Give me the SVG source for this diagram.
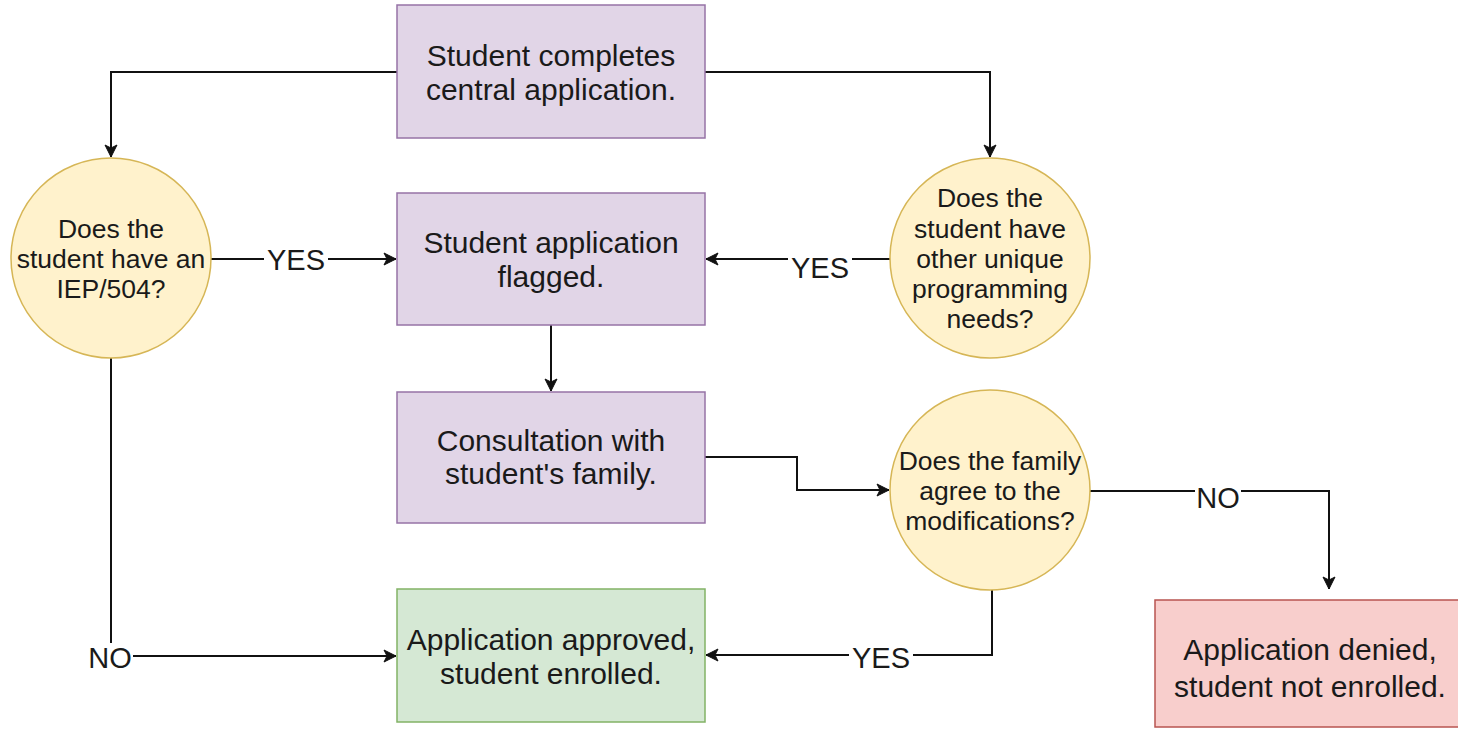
<svg xmlns="http://www.w3.org/2000/svg" width="1458" height="732" viewBox="0 0 1458 732">
<style>
.box{stroke-width:1.5}
.purple{fill:#e1d5e7;stroke:#9673a6}
.yellow{fill:#fff2cc;stroke:#d6b656}
.green{fill:#d5e8d4;stroke:#82b366}
.red{fill:#f8cecc;stroke:#b85450}
.t{font-family:"Liberation Sans",Arial,sans-serif;fill:#1a1a1a;text-anchor:middle}
.bt{font-size:30px}
.ct{font-size:26.5px}
.lt{font-size:29px}
.edge{fill:none;stroke:#111;stroke-width:2}
.lbg{fill:#fff}
</style>
<defs>
<marker id="arr" markerUnits="userSpaceOnUse" markerWidth="14" markerHeight="14" viewBox="0 0 14 14" refX="13" refY="7" orient="auto">
<path d="M1,1 L13,7 L1,13 L4,7 z" fill="#111" stroke="#111" stroke-width="1"/>
</marker>
</defs>
<rect width="1458" height="732" fill="#fff"/>
<g id="connectors">
<path class="edge" d="M397,72 H111 V157" marker-end="url(#arr)"/>
<path class="edge" d="M705,72 H990 V157" marker-end="url(#arr)"/>
<path class="edge" d="M210,259 H396" marker-end="url(#arr)"/>
<path class="edge" d="M890,259 H706" marker-end="url(#arr)"/>
<path class="edge" d="M551,325 V391" marker-end="url(#arr)"/>
<path class="edge" d="M705,457 H797 V490 H889" marker-end="url(#arr)"/>
<path class="edge" d="M1090,491 H1329 V589" marker-end="url(#arr)"/>
<path class="edge" d="M992,590 V655 H706" marker-end="url(#arr)"/>
<path class="edge" d="M111,358 V656 H396" marker-end="url(#arr)"/>
<rect class="lbg" x="264" y="246" width="64" height="28"/>
<text class="t lt" x="296" y="270">YES</text>
<rect class="lbg" x="788" y="252" width="64" height="30"/>
<text class="t lt" x="820" y="278">YES</text>
<rect class="lbg" x="1195" y="478" width="46" height="28"/>
<text class="t lt" x="1218" y="508">NO</text>
<rect class="lbg" x="849" y="643" width="64" height="28"/>
<text class="t lt" x="881" y="668">YES</text>
<rect class="lbg" x="87" y="643" width="46" height="28"/>
<text class="t lt" x="110" y="668">NO</text>
</g>
<g id="start">
<rect class="box purple" x="397" y="5" width="308" height="133"/>
<text class="t bt" x="551" y="66">Student completes</text>
<text class="t bt" x="551" y="100">central application.</text>
</g>
<g id="q-iep">
<circle class="box yellow" cx="111" cy="258" r="100"/>
<text class="t ct" x="111" y="238">Does the</text>
<text class="t ct" x="111" y="268">student have an</text>
<text class="t ct" x="111" y="298">IEP/504?</text>
</g>
<g id="flagged">
<rect class="box purple" x="397" y="193" width="308" height="132"/>
<text class="t bt" x="551" y="253">Student application</text>
<text class="t bt" x="551" y="287">flagged.</text>
</g>
<g id="q-needs">
<circle class="box yellow" cx="990" cy="258" r="100"/>
<text class="t ct" x="990" y="207">Does the</text>
<text class="t ct" x="990" y="238">student have</text>
<text class="t ct" x="990" y="268">other unique</text>
<text class="t ct" x="990" y="298">programming</text>
<text class="t ct" x="990" y="328">needs?</text>
</g>
<g id="consult">
<rect class="box purple" x="397" y="392" width="308" height="131"/>
<text class="t bt" x="551" y="451">Consultation with</text>
<text class="t bt" x="551" y="484">student's family.</text>
</g>
<g id="q-family">
<circle class="box yellow" cx="990" cy="490" r="100"/>
<text class="t ct" x="990" y="470">Does the family</text>
<text class="t ct" x="990" y="500">agree to the</text>
<text class="t ct" x="990" y="530">modifications?</text>
</g>
<g id="approved">
<rect class="box green" x="397" y="589" width="308" height="133"/>
<text class="t bt" x="551" y="650">Application approved,</text>
<text class="t bt" x="551" y="684">student enrolled.</text>
</g>
<g id="denied">
<rect class="box red" x="1155" y="600" width="312" height="127"/>
<text class="t bt" x="1310" y="660">Application denied,</text>
<text class="t bt" x="1310" y="697">student not enrolled.</text>
</g>
</svg>
